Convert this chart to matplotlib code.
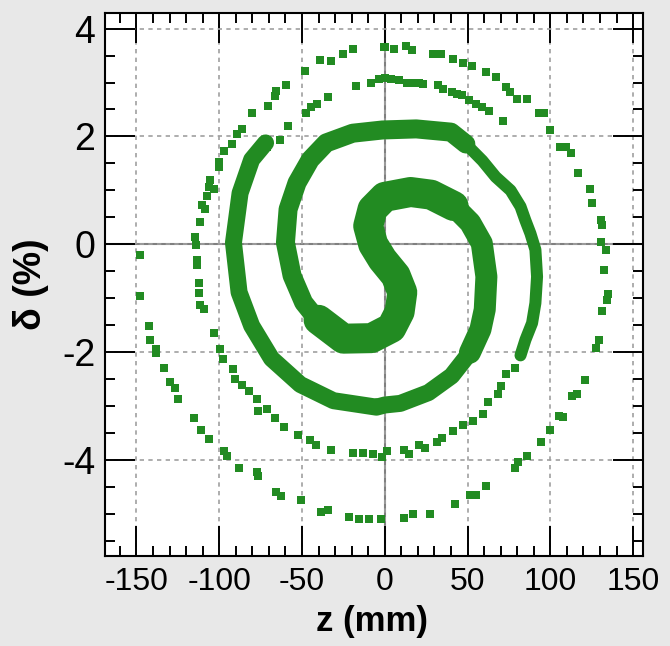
import matplotlib
matplotlib.use("Agg")
import matplotlib.pyplot as plt
from matplotlib.ticker import MultipleLocator

plt.rcParams['font.family'] = ['Liberation Sans', 'DejaVu Sans']
plt.rcParams['axes.unicode_minus'] = False

GREEN = '#228B22'

# ---- dense band centerlines (z in mm, delta in %) ----
core_z = [-40, -25, -8, 4, 9, 10.6, 6.6, -1.4, -7, -10, -7.4, 0, 15.6, 28, 41.6]
core_d = [-1.40, -1.75, -1.74, -1.55, -1.25, -0.89, -0.58, -0.28, 0.0, 0.34, 0.65, 0.88, 0.97, 0.92, 0.71]

bandA1_z = [28, 41.6, 51.6, 58.6, 61.4, 60.4, 57.8, 51.4]
bandA1_d = [0.92, 0.71, 0.40, 0.02, -0.60, -1.21, -1.58, -2.01]

bandA2_z = [51.4, 40.4, 26.4, 9.4, 0, -5, -31, -51, -68.4, -80.4, -88, -91.4, -87.4, -80.4, -72]
bandA2_d = [-2.01, -2.44, -2.75, -2.95, -2.98, -3.02, -2.90, -2.60, -2.12, -1.51, -0.89, 0.03, 0.95, 1.57, 1.88]

bandB1_z = [-42, -49, -56, -60, -58.4, -53, -45, -35.4, -19.4, -1.4, 19, 40, 49]
bandB1_d = [-1.35, -1.08, -0.58, 0.03, 0.65, 1.14, 1.57, 1.88, 2.06, 2.12, 2.14, 2.08, 1.86]

bandB2_z = [49, 59, 67, 76, 82, 85, 88, 91, 92, 91, 89, 85, 82]
bandB2_d = [1.86, 1.55, 1.25, 1.00, 0.70, 0.44, 0.20, -0.10, -0.60, -1.09, -1.46, -1.77, -2.06]

# ---- sparse particles ----
inner_z = [-113.9, -113.4, -113.4, -112.4, -112.4, -111.4, -109.4, -103.4, -99.4, -97.8,
           -91.8, -90.4, -86.4, -81.8, -77.4, -76.4, -71.4, -66.4, -60.8, -52.4,
           -45.0, -41.4, -32.4, -19.4, -13.4, -7.4, -1.4, 1.4, 11.4, 14.4,
           20.4, 24.4, 31.4, 34.4, 41.4, 47.4, 53.4, 59.4, 62.4, 68.4,
           70.4, 73.4, 78.4]
inner_d = [-0.01, -0.29, -0.38, -0.72, -0.90, -1.12, -1.20, -1.64, -1.95, -2.12,
           -2.31, -2.50, -2.60, -2.72, -2.87, -3.09, -3.06, -3.22, -3.39, -3.54,
           -3.62, -3.73, -3.81, -3.87, -3.87, -3.89, -3.95, -3.84, -3.82, -3.89,
           -3.73, -3.78, -3.66, -3.60, -3.46, -3.36, -3.27, -3.15, -2.92, -2.78,
           -2.63, -2.41, -2.29]

outer_z = [-114.4, -111.4, -108.4, -110.4, -107.4, -103.0, -106.4, -105.4, -100.4, -100.4,
           -97.4, -92.4, -89.4, -86.4, -80.4, -70.8, -66.4, -65.8, -59.4, -48.0,
           -39.4, -32.4, -25.4, -19.4, -0.4, 0.4, 5.8, 13.0, 16.4, 29.4,
           33.8, 41.4, 47.4, 53.0, 61.4, 67.4, 73.0, 75.4, 80.0, 85.8,
           93.4, 96.4, 99.8, 105.8, 109.4, 112.4, 117.0, 123.8, 125.4, 130.4,
           131.0, 130.4, 133.4, 132.4, 135.1, 134.5, 131.5, 129.5, 127.5, 120.9,
           116.4, 113.4, 107.4, 105.4, 100.0, 94.4, 85.8, 80.4, 78.4, 61.4,
           55.4, 51.4, 42.4, 27.4, 17.0, 11.8, -2.4, -9.4, -15.4, -21.4,
           -34.4, -38.4, -50.4, -62.4, -65.4, -76.4, -77.4, -87.8, -95.4, -97.4,
           -106.4, -110.9, -115.1, -125.0, -126.5, -129.5, -133.4, -137.9, -137.9, -141.8,
           -142.4, -148.1, -148.1]
outer_d = [0.13, 0.42, 0.66, 0.73, 0.89, 1.03, 1.06, 1.19, 1.43, 1.53,
           1.73, 1.86, 2.05, 2.14, 2.44, 2.56, 2.75, 2.85, 2.96, 3.22,
           3.41, 3.40, 3.52, 3.62, 3.66, 3.66, 3.62, 3.68, 3.60, 3.52,
           3.52, 3.44, 3.37, 3.31, 3.19, 3.11, 2.92, 2.83, 2.69, 2.69,
           2.43, 2.43, 2.12, 1.81, 1.81, 1.69, 1.33, 1.03, 0.76, 0.45,
           0.36, 0.05, -0.10, -0.47, -0.93, -1.03, -1.24, -1.78, -1.92, -2.52,
           -2.78, -2.81, -3.21, -3.18, -3.44, -3.66, -3.92, -4.04, -4.15, -4.49,
           -4.64, -4.64, -4.81, -5.01, -5.01, -5.07, -5.10, -5.10, -5.10, -5.06,
           -4.92, -4.96, -4.75, -4.66, -4.59, -4.29, -4.23, -4.14, -3.92, -3.83,
           -3.61, -3.44, -3.22, -2.87, -2.66, -2.56, -2.30, -2.01, -1.95, -1.77,
           -1.52, -0.95, -0.20]

mid_z = [-71.4, -63.0, -58.4, -47.4, -44.4, -41.0, -34.4, -17.4, -8.4, -3.4,
         0.4, 4.0, 8.4, 13.4, 18.4, 20.8, 23.0, 32.4, 35.4, 40.4,
         43.4, 46.4, 51.0, 55.4, 58.8, 63.0, 71.4]
mid_d = [1.80, 1.94, 2.20, 2.43, 2.54, 2.60, 2.74, 2.94, 3.00, 3.06,
         3.09, 3.06, 3.04, 3.00, 3.00, 2.99, 2.97, 2.96, 2.88, 2.82,
         2.79, 2.77, 2.68, 2.60, 2.55, 2.47, 2.29]

xticks = [-150, -100, -50, 0, 50, 100, 150]
yticks = [-4, -2, 0, 2, 4]

# ---- figure ----
W, H = 670, 646
fig = plt.figure(figsize=(W / 100, H / 100), dpi=100, facecolor='#e8e8e8')
ax = fig.add_axes([105 / W, 1 - 556 / H, (643 - 105) / W, (556 - 13.5) / H])
ax.set_facecolor('white')
ax.set_xlim(-169, 156)
ax.set_ylim(-5.78, 4.28)

ax.set_xticks(xticks)
ax.set_yticks(yticks)
ax.xaxis.set_minor_locator(MultipleLocator(10))
ax.yaxis.set_minor_locator(MultipleLocator(0.5))
ax.grid(which='major', color='#a0a0a0', lw=1.2, ls=(0, (2.6, 2.6)), zorder=0)
ax.axhline(0, color='#808080', lw=1.5, zorder=1)
ax.axvline(0, color='#808080', lw=1.5, zorder=1)

px = 0.72  # points per pixel
def band(z, d, wpx):
    ax.plot(z, d, '-', color=GREEN, lw=wpx * px, solid_joinstyle='round',
            solid_capstyle='round', zorder=3)

band(bandA2_z, bandA2_d, 17)
band(bandB1_z, bandB1_d, 19)
band(bandB2_z, bandB2_d, 12)
band(bandA1_z, bandA1_d, 22)
band(core_z, core_d, 30)

for zz, dd in [(inner_z, inner_d), (outer_z, outer_d), (mid_z, mid_d)]:
    ax.plot(zz, dd, 's', color=GREEN, ms=5.8, mew=0, ls='none', zorder=3)

for s in ax.spines.values():
    s.set_linewidth(1.5)
    s.set_color('black')
    s.set_zorder(5)

ax.tick_params(which='both', direction='in', top=True, right=True, width=1.4, color='black')
ax.tick_params(which='major', length=21.6)
ax.tick_params(which='minor', length=7.2)
ax.tick_params(axis='x', which='major', labelsize=23, pad=8)
ax.tick_params(axis='y', which='major', labelsize=27, pad=7)

fig.text(372 / W, 1 - 631 / H, 'z (mm)', ha='center', va='baseline',
         fontsize=25, fontweight='bold')
fig.text(31 / W, 1 - 284 / H, 'δ (%)', ha='center', va='center', rotation=90,
         fontsize=27, fontweight='bold')

fig.savefig('out.png', dpi=100, facecolor=fig.get_facecolor())
